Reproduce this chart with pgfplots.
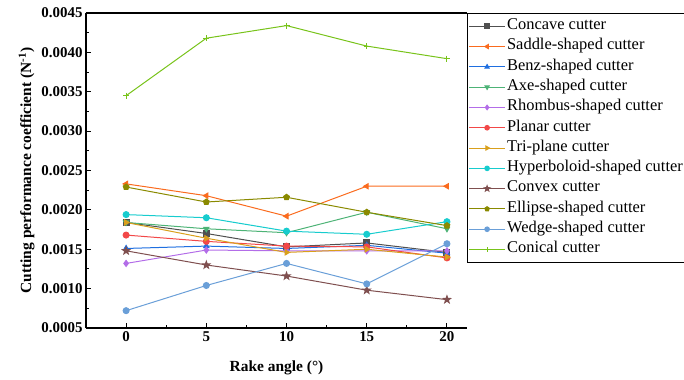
\documentclass[border=0pt]{standalone}
\usepackage{fontspec}
\setmainfont{Liberation Serif}
\usepackage{pgfplots}
\pgfplotsset{compat=1.18}
\usetikzlibrary{plotmarks}
\pgfdeclareplotmark{fstar}{%
  \pgfpathmoveto{\pgfpointpolar{90}{1.25\pgfplotmarksize}}%
  \pgfpathlineto{\pgfpointpolar{126}{0.5\pgfplotmarksize}}%
  \pgfpathlineto{\pgfpointpolar{162}{1.25\pgfplotmarksize}}%
  \pgfpathlineto{\pgfpointpolar{198}{0.5\pgfplotmarksize}}%
  \pgfpathlineto{\pgfpointpolar{234}{1.25\pgfplotmarksize}}%
  \pgfpathlineto{\pgfpointpolar{270}{0.5\pgfplotmarksize}}%
  \pgfpathlineto{\pgfpointpolar{306}{1.25\pgfplotmarksize}}%
  \pgfpathlineto{\pgfpointpolar{342}{0.5\pgfplotmarksize}}%
  \pgfpathlineto{\pgfpointpolar{18}{1.25\pgfplotmarksize}}%
  \pgfpathlineto{\pgfpointpolar{54}{0.5\pgfplotmarksize}}%
  \pgfpathclose\pgfusepathqfillstroke}
\definecolor{cConcave}{HTML}{505050}
\definecolor{cSaddle}{HTML}{FA6B1E}
\definecolor{cBenz}{HTML}{1F6FE0}
\definecolor{cAxe}{HTML}{4DB376}
\definecolor{cRhombus}{HTML}{B36DE8}
\definecolor{cPlanar}{HTML}{F24848}
\definecolor{cTri}{HTML}{D9A01C}
\definecolor{cHyper}{HTML}{17CCCE}
\definecolor{cConvex}{HTML}{7F4F4F}
\definecolor{cEllipse}{HTML}{8A8A00}
\definecolor{cWedge}{HTML}{6A9FD8}
\definecolor{cConical}{HTML}{78C31A}
\begin{document}
\begin{tikzpicture}
\begin{axis}[
  scale only axis, width=381bp, height=315bp,
  xmin=-2.5, xmax=21.25, ymin=0.0005, ymax=0.0045,
  axis x line=box, axis y line=left,
  axis line style={-, line width=1.3bp, black},
  xtick={0,5,10,15,20}, minor x tick num=1,
  ytick={0.0005,0.0010,0.0015,0.0020,0.0025,0.0030,0.0035,0.0040,0.0045},
  minor y tick num=1,
  xtick pos=bottom, ytick pos=left,
  tick align=inside,
  major tick length=5bp, minor tick length=3bp,
  every tick/.style={line width=1bp, black},
  scaled y ticks=false,
  yticklabel style={/pgf/number format/.cd, fixed, fixed zerofill, precision=4},
  /pgf/number format/assume math mode=true,
  tick label style={font=\bfseries\fontsize{15}{17}\selectfont},
  label style={font=\bfseries\fontsize{15.5}{18}\selectfont},
  xlabel={Rake angle (°)},
  xlabel style={yshift=-12bp},
  ylabel={Cutting performance coefficient (N\textsuperscript{-1})},
  every axis plot/.append style={line width=1bp, mark size=3bp},
  legend cell align=left,
  legend image code/.code={\draw[mark repeat=2,mark phase=2,mark size=2.3bp] plot coordinates {(0bp,0bp) (18bp,0bp) (36bp,0bp)};},
  legend style={at={(rel axis cs:1,1)}, anchor=north west, draw=black, line width=1.2bp,
    font=\fontsize{16.5}{18}\selectfont, inner xsep=1bp, inner ysep=2.5bp,
    nodes={inner sep=1.5bp, text height=12bp, text depth=5.3bp},
    column sep=0bp},
]
\addplot[color=cConcave, mark=square*] coordinates {(0,0.00184)(5,0.00170)(10,0.00153)(15,0.00158)(20,0.00146)};
\addlegendentry{Concave cutter}
\addplot[color=cSaddle, mark=triangle*, mark options={rotate=90}] coordinates {(0,0.00233)(5,0.00218)(10,0.00192)(15,0.00230)(20,0.00230)};
\addlegendentry{Saddle-shaped cutter}
\addplot[color=cBenz, mark=triangle*] coordinates {(0,0.00151)(5,0.00154)(10,0.00151)(15,0.00155)(20,0.00145)};
\addlegendentry{Benz-shaped cutter}
\addplot[color=cAxe, mark=triangle*, mark options={rotate=180}] coordinates {(0,0.00184)(5,0.00176)(10,0.00171)(15,0.00197)(20,0.00176)};
\addlegendentry{Axe-shaped cutter}
\addplot[color=cRhombus, mark=diamond*] coordinates {(0,0.00132)(5,0.00149)(10,0.00148)(15,0.00148)(20,0.00148)};
\addlegendentry{Rhombus-shaped cutter}
\addplot[color=cPlanar, mark=*] coordinates {(0,0.00168)(5,0.00160)(10,0.00154)(15,0.00153)(20,0.00139)};
\addlegendentry{Planar cutter}
\addplot[color=cTri, mark=triangle*, mark options={rotate=-90}] coordinates {(0,0.00184)(5,0.00164)(10,0.00146)(15,0.00150)(20,0.00140)};
\addlegendentry{Tri-plane cutter}
\addplot[color=cHyper, mark=*] coordinates {(0,0.00194)(5,0.00190)(10,0.00173)(15,0.00169)(20,0.00185)};
\addlegendentry{Hyperboloid-shaped cutter}
\addplot[color=cConvex, mark=fstar] coordinates {(0,0.00148)(5,0.00130)(10,0.00116)(15,0.00098)(20,0.00086)};
\addlegendentry{Convex cutter}
\addplot[color=cEllipse, mark=pentagon*] coordinates {(0,0.00229)(5,0.00210)(10,0.00216)(15,0.00197)(20,0.00180)};
\addlegendentry{Ellipse-shaped cutter}
\addplot[color=cWedge, mark=*] coordinates {(0,0.00072)(5,0.00104)(10,0.00132)(15,0.00106)(20,0.00157)};
\addlegendentry{Wedge-shaped cutter}
\addplot[color=cConical, mark=+] coordinates {(0,0.00345)(5,0.00418)(10,0.00434)(15,0.00408)(20,0.00392)};
\addlegendentry{Conical cutter}
\coordinate (O) at (rel axis cs:0,0);
\end{axis}
\pgfresetboundingbox
\path (O) ++(-86bp,-52bp) rectangle ++(684bp,380bp);
\end{tikzpicture}
\end{document}
